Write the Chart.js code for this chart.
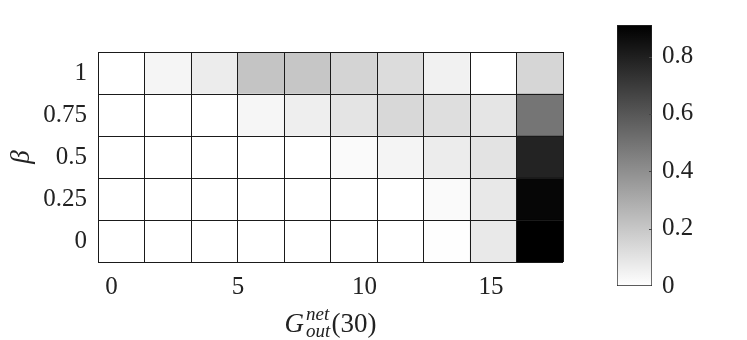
<!DOCTYPE html>
<html>
<head>
<meta charset="utf-8">
<script src="https://cdn.jsdelivr.net/npm/chart.js@4"></script>
<style>
  body { margin: 0; background: #fff; }
  #wrap { position: relative; width: 747px; height: 340px; }
  #heat { position: absolute; left: 0; top: 0; }
  #cbar { position: absolute; left: 600px; top: 0; }
</style>
</head>
<body>
<div id="wrap">
  <canvas id="heat" width="600" height="340"></canvas>
  <canvas id="cbar" width="147" height="340"></canvas>
</div>
<script>
// rows of the map, one array per beta value (columns left to right)
const betaLabels = ['0', '0.25', '0.5', '0.75', '1'];
const gCenters = [0.389, 2.226, 4.063, 5.900, 7.737, 9.574, 11.411, 13.248, 15.085, 16.922];
const xTicks = [0, 5, 10, 15];
const xMin = -0.53, xMax = 17.84;
const beta0   = [0, 0, 0, 0, 0, 0, 0, 0.004, 0.079, 0.91];
const beta025 = [0, 0, 0, 0, 0, 0, 0, 0.018, 0.082, 0.889];
const beta05  = [0, 0, 0, 0, 0, 0.018, 0.039, 0.068, 0.1, 0.785];
const beta075 = [0, 0, 0, 0.032, 0.061, 0.096, 0.139, 0.118, 0.093, 0.492];
const beta1   = [0, 0.036, 0.068, 0.21, 0.203, 0.153, 0.125, 0.05, 0, 0.146];
const cbTicks = [0, 0.2, 0.4, 0.6, 0.8];
const cbMax = 0.91;

const FONT = '"Liberation Serif", "Times New Roman", serif';
const INK = '#222';
const TICK_SIZE = 25;
const CELL_LINE = '#1a1a1a';

const grayOf = v => {
    const g = Math.round(255 * (1 - Math.min(v, cbMax) / cbMax));
    return `rgb(${g},${g},${g})`;
};

const rows = [beta0, beta025, beta05, beta075, beta1];
// cell borders: half way between column centres, plus the outer edges
const colEdges = [xMin].concat(gCenters.slice(1).map((c, i) => (c + gCenters[i]) / 2), [xMax]);

// x label with sub/superscript: G_out^net(30)
const xTitle = {
    id: 'xTitle',
    afterDraw(chart) {
        const c = chart.ctx, a = chart.chartArea;
        const big = '27px ' + FONT, bigI = 'italic 27px ' + FONT, small = 'italic 19px ' + FONT;
        c.save();
        c.fillStyle = INK;
        c.textBaseline = 'alphabetic';
        c.textAlign = 'left';
        c.font = bigI; const wG = c.measureText('G').width;
        c.font = small; const wS = Math.max(c.measureText('net').width, c.measureText('out').width);
        c.font = big; const wP = c.measureText('(30)').width;
        let x = (a.left + a.right) / 2 - (wG + wS + 3 + wP) / 2;
        const y = a.bottom + 70;
        c.font = bigI; c.fillText('G', x, y); x += wG + 2;
        c.font = small; c.fillText('net', x, y - 12); c.fillText('out', x, y + 5); x += wS + 1;
        c.font = big; c.fillText('(30)', x, y);
        c.restore();
    }
};

new Chart(document.getElementById('heat'), {
    type: 'bar',
    data: {
        datasets: rows.map((vals, r) => ({
            label: 'beta = ' + betaLabels[r],
            data: gCenters.map(x => ({ x: x, y: [r, r + 1] })),
            backgroundColor: vals.map(grayOf),
            borderWidth: 0,
            grouped: false,
            barPercentage: 1,
            categoryPercentage: 1
        }))
    },
    options: {
        responsive: false,
        animation: false,
        layout: { padding: { left: 0, top: 52, right: 37, bottom: 0 } },
        plugins: { legend: { display: false }, tooltip: { enabled: false } },
        scales: {
            x: {
                type: 'linear',
                offset: false,
                min: xMin,
                max: xMax,
                afterBuildTicks: s => { s.ticks = xTicks.map(v => ({ value: v })); },
                afterFit: s => { s.height = 78; },
                grid: { display: false, drawTicks: false, offset: false },
                border: { display: false },
                ticks: { padding: 10, color: INK, font: { family: FONT, size: TICK_SIZE } }
            },
            xg: {
                type: 'linear',
                position: 'bottom',
                offset: false,
                min: xMin,
                max: xMax,
                afterBuildTicks: s => { s.ticks = colEdges.map(v => ({ value: v })); },
                afterFit: s => { s.height = 0; },
                grid: { color: CELL_LINE, lineWidth: 1, drawTicks: false, offset: false, z: 1 },
                border: { display: false },
                ticks: { display: false }
            },
            y: {
                type: 'linear',
                min: 0,
                max: 5,
                afterBuildTicks: s => { s.ticks = betaLabels.map((b, i) => ({ value: i + 0.5 })); },
                afterFit: s => { s.width = 98; },
                grid: { display: false, drawTicks: false },
                border: { display: false },
                ticks: {
                    padding: 11, color: INK, font: { family: FONT, size: TICK_SIZE },
                    callback: v => betaLabels[Math.floor(v)]
                },
                title: {
                    display: true, text: 'β', color: INK,
                    padding: { top: 6, bottom: 0 },
                    font: { family: FONT, size: 27, style: 'italic' }
                }
            },
            yg: {
                type: 'linear',
                position: 'left',
                min: 0,
                max: 5,
                afterBuildTicks: s => { s.ticks = [0, 1, 2, 3, 4, 5].map(v => ({ value: v })); },
                afterFit: s => { s.width = 0; },
                grid: { color: CELL_LINE, lineWidth: 1, drawTicks: false, z: 1 },
                border: { display: false },
                ticks: { display: false }
            }
        }
    },
    plugins: [xTitle]
});

// small inward tick marks on the colour bar
const cbMarks = {
    id: 'cbMarks',
    afterDraw(chart) {
        const c = chart.ctx, a = chart.chartArea, y = chart.scales.y;
        c.save();
        c.strokeStyle = '#444';
        c.lineWidth = 1;
        cbTicks.slice(1).forEach(t => {
            const p = Math.round(y.getPixelForValue(t)) + 0.5;
            c.beginPath(); c.moveTo(a.right - 3, p); c.lineTo(a.right, p); c.stroke();
        });
        c.restore();
    }
};

new Chart(document.getElementById('cbar'), {
    type: 'bar',
    data: {
        labels: [''],
        datasets: [{
            data: [[0, cbMax]],
            backgroundColor: ctx => {
                const a = ctx.chart.chartArea;
                if (!a) return '#888';
                const g = ctx.chart.ctx.createLinearGradient(0, a.bottom, 0, a.top);
                g.addColorStop(0, '#fff');
                g.addColorStop(1, '#000');
                return g;
            },
            borderColor: '#262626',
            borderWidth: 1,
            borderSkipped: false,
            barPercentage: 1,
            categoryPercentage: 1
        }]
    },
    options: {
        responsive: false,
        animation: false,
        layout: { padding: { left: 17, top: 25, right: 0, bottom: 54 } },
        plugins: { legend: { display: false }, tooltip: { enabled: false } },
        scales: {
            x: { display: false },
            y: {
                position: 'right',
                min: 0,
                max: cbMax,
                afterBuildTicks: s => { s.ticks = cbTicks.map(v => ({ value: v })); },
                afterFit: s => { s.width = 95; },
                grid: { display: false, drawTicks: false },
                border: { display: false },
                ticks: { padding: 10, color: INK, font: { family: FONT, size: TICK_SIZE } }
            }
        }
    },
    plugins: [cbMarks]
});
</script>
</body>
</html>
